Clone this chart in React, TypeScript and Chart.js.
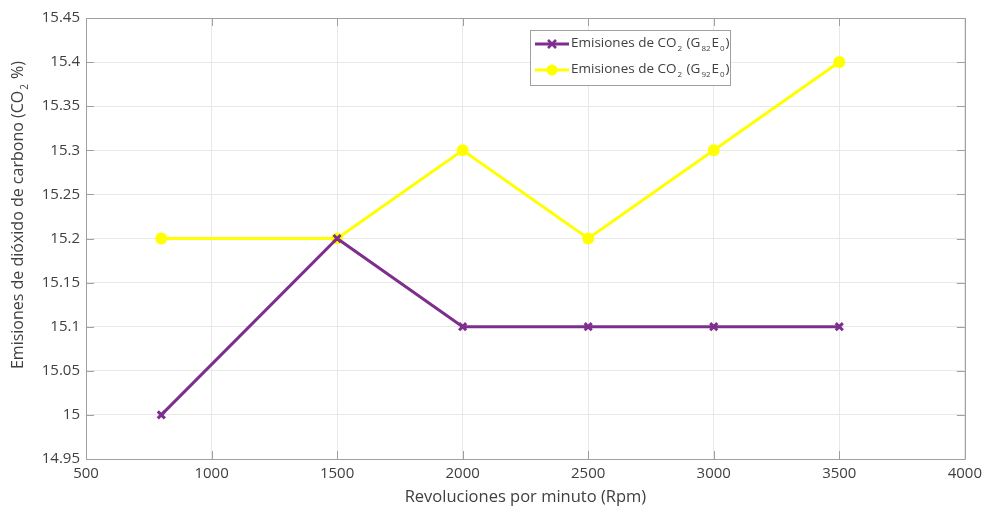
import React, { useEffect, useRef } from "react";
import { Chart, registerables } from "chart.js";
Chart.register(...registerables);

const rpm = [800, 1500, 2000, 2500, 3000, 3500];
const co2G82 = [15.0, 15.2, 15.1, 15.1, 15.1, 15.1];
const co2G92 = [15.2, 15.2, 15.3, 15.2, 15.3, 15.4];
const xTicks = [500, 1000, 1500, 2000, 2500, 3000, 3500, 4000];
const yTicks = [14.95, 15, 15.05, 15.1, 15.15, 15.2, 15.25, 15.3, 15.35, 15.4, 15.45];
const xTitle = "Revoluciones por minuto (Rpm)";
const yTitleParts = [
  { t: "Emisiones de dióxido de carbono (CO" },
  { t: "2", sub: true },
  { t: " %)" },
];
const legendItems = [
  { label: [{ t: "Emisiones de CO" }, { t: "2", sub: true }, { t: " (G" }, { t: "82", sub: true }, { t: "E" }, { t: "0", sub: true }, { t: ")" }], color: "#7E2F8E", style: "cross" },
  { label: [{ t: "Emisiones de CO" }, { t: "2", sub: true }, { t: " (G" }, { t: "92", sub: true }, { t: "E" }, { t: "0", sub: true }, { t: ")" }], color: "#FFFF00", style: "circle" },
];

const FONT = "'Open Sans', sans-serif";
const TEXT = "#404040";
const AXIS = "#a0a0a0";

type Part = { t: string; sub?: boolean };

function richWidth(ctx: CanvasRenderingContext2D, parts: Part[], size: number) {
  let w = 0;
  for (const p of parts) {
    ctx.font = `${p.sub ? Math.round(size * 0.6) : size}px ${FONT}`;
    w += ctx.measureText(p.t).width + (p.sub ? 2 : 0);
  }
  return w;
}

function drawRich(ctx: CanvasRenderingContext2D, parts: Part[], x: number, y: number, size: number) {
  let cx = x;
  ctx.textAlign = "left";
  ctx.textBaseline = "middle";
  for (const p of parts) {
    const s = p.sub ? Math.round(size * 0.6) : size;
    ctx.font = `${s}px ${FONT}`;
    if (p.sub) cx += 1;
    ctx.fillText(p.t, cx, p.sub ? y + size * 0.45 : y);
    cx += ctx.measureText(p.t).width + (p.sub ? 1 : 0);
  }
}

const decor = {
  id: "decor",
  afterDatasetsDraw(chart: any) {
    const ctx: CanvasRenderingContext2D = chart.ctx;
    const { left, right, top, bottom } = chart.chartArea;
    const xs = chart.scales.x;
    const ys = chart.scales.y;
    ctx.save();
    ctx.strokeStyle = AXIS;
    ctx.lineWidth = 1;
    ctx.beginPath();
    ctx.rect(Math.round(left) + 0.5, Math.round(top) + 0.5, Math.round(right - left), Math.round(bottom - top));
    ctx.stroke();
    const tl = 8;
    ctx.beginPath();
    for (const v of xTicks) {
      const px = Math.round(xs.getPixelForValue(v)) + 0.5;
      ctx.moveTo(px, bottom);
      ctx.lineTo(px, bottom - tl);
      ctx.moveTo(px, top);
      ctx.lineTo(px, top + tl);
    }
    for (const v of yTicks) {
      const py = Math.round(ys.getPixelForValue(v)) + 0.5;
      ctx.moveTo(left, py);
      ctx.lineTo(left + tl, py);
      ctx.moveTo(right, py);
      ctx.lineTo(right - tl, py);
    }
    ctx.stroke();
    ctx.restore();
  },
  afterDraw(chart: any) {
    const ctx: CanvasRenderingContext2D = chart.ctx;
    ctx.save();
    ctx.fillStyle = TEXT;
    const ysz = 16;
    const w = richWidth(ctx, yTitleParts, ysz);
    ctx.translate(18, 215);
    ctx.rotate(-Math.PI / 2);
    drawRich(ctx, yTitleParts, -w / 2, 0, ysz);
    ctx.restore();

    ctx.save();
    const bx = 530.5, by = 30.5, bw = 200, bh = 55;
    ctx.fillStyle = "#ffffff";
    ctx.fillRect(bx, by, bw, bh);
    ctx.strokeStyle = "#a0a0a0";
    ctx.lineWidth = 1;
    ctx.strokeRect(bx, by, bw, bh);
    legendItems.forEach((it, i) => {
      const y = 44 + i * 26;
      ctx.strokeStyle = it.color;
      ctx.lineWidth = 3;
      ctx.beginPath();
      ctx.moveTo(535, y);
      ctx.lineTo(569, y);
      ctx.stroke();
      const mx = 552;
      if (it.style === "cross") {
        ctx.lineWidth = 2.5;
        ctx.beginPath();
        ctx.moveTo(mx - 4, y - 4);
        ctx.lineTo(mx + 4, y + 4);
        ctx.moveTo(mx + 4, y - 4);
        ctx.lineTo(mx - 4, y + 4);
        ctx.stroke();
      } else {
        ctx.fillStyle = it.color;
        ctx.beginPath();
        ctx.arc(mx, y, 5.5, 0, Math.PI * 2);
        ctx.fill();
      }
      ctx.fillStyle = TEXT;
      drawRich(ctx, it.label, 571, y - 1, 13.5);
    });
    ctx.restore();
  },
};

export default function App() {
  const ref = useRef<HTMLCanvasElement>(null);
  useEffect(() => {
    document.body.style.margin = "0";
    const chart = new Chart(ref.current!, {
      type: "line",
      data: {
        datasets: [
          {
            label: "G82E0",
            data: rpm.map((x, i) => ({ x, y: co2G82[i] })),
            borderColor: "#7E2F8E",
            backgroundColor: "#7E2F8E",
            borderWidth: 3,
            pointStyle: "crossRot",
            pointRadius: 5,
            pointBorderWidth: 3,
            pointBorderColor: "#7E2F8E",
            tension: 0,
          },
          {
            label: "G92E0",
            data: rpm.map((x, i) => ({ x, y: co2G92[i] })),
            borderColor: "#FFFF00",
            backgroundColor: "#FFFF00",
            borderWidth: 3,
            pointStyle: "circle",
            pointRadius: 6,
            pointBorderWidth: 0,
            tension: 0,
          },
        ],
      },
      options: {
        responsive: false,
        animation: false,
        layout: { padding: { left: 0, top: 18, right: 22, bottom: 0 } },
        plugins: { legend: { display: false }, tooltip: { enabled: false } },
        scales: {
          x: {
            type: "linear",
            min: 500,
            max: 4000,
            afterBuildTicks: (s: any) => { s.ticks = xTicks.map((v) => ({ value: v })); },
            afterFit: (s: any) => { s.height = 52; },
            grid: { color: "#e8e8e8", drawTicks: false },
            border: { display: false },
            ticks: { color: TEXT, font: { family: FONT, size: 15 }, padding: 6, maxRotation: 0, autoSkip: false, callback: (v: any) => String(v) },
            title: { display: true, text: xTitle, color: TEXT, font: { family: FONT, size: 16.5 }, padding: { top: 4, bottom: 4 } },
          },
          y: {
            type: "linear",
            min: 14.95,
            max: 15.45,
            afterBuildTicks: (s: any) => { s.ticks = yTicks.map((v) => ({ value: v })); },
            afterFit: (s: any) => { s.width = 86; },
            grid: { color: "#e8e8e8", drawTicks: false },
            border: { display: false },
            ticks: { color: TEXT, font: { family: FONT, size: 15 }, padding: 6, autoSkip: false, callback: (v: any) => String(Math.round(v * 100) / 100) },
          },
        },
      },
      plugins: [decor],
    } as any);
    return () => chart.destroy();
  }, []);
  return (
    <div style={{ position: "absolute", left: 0, top: 0, width: 988, height: 511, background: "#fff" }}>
      <canvas ref={ref} width={988} height={511} />
    </div>
  );
}
